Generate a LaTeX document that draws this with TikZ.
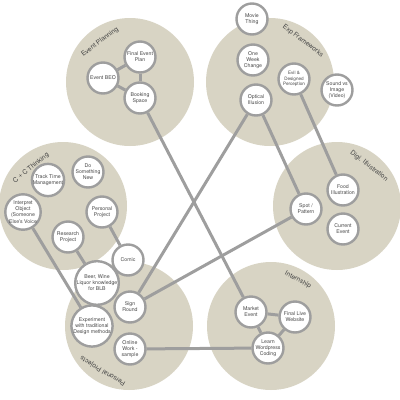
\documentclass[tikz,border=0pt]{standalone}
\usepackage{fontspec}
\setmainfont{TeX Gyre Heros}
\definecolor{sand}{RGB}{216,212,196}
\definecolor{rim}{RGB}{158,158,158}
\definecolor{ink}{RGB}{70,70,70}
\begin{document}
\begin{tikzpicture}[x=1pt,y=-1pt,
    idea/.style={circle,draw=rim,line width=2.4pt,fill=white,minimum size=31pt,
      inner sep=0pt,align=center,text=ink,font=\fontsize{5.2}{6.1}\selectfont},
    tag/.style={text=ink,font=\fontsize{6.6}{7}\selectfont},
    link/.style={rim,line width=3pt}]
    \useasboundingbox (0,0) rectangle (400,400);
    % the six topics
    \fill[sand] (130,82) circle (64pt);
    \fill[sand] (270,82) circle (64pt);
    \fill[sand] (337,206) circle (64pt);
    \fill[sand] (271,326) circle (64pt);
    \fill[sand] (129,326) circle (64pt);
    \fill[sand] (63,206) circle (64pt);
    \begin{scope}[shift={(130,82)}]
      \node[tag,rotate=37] (eptag) at (-30,-40) {Event Planning};
      \node[idea] (finalplan) at (10,-25) {Final Event\\Plan};
      \node[idea] (beo) at (-27,-4) {Event BEO};
      \node[idea] (booking) at (10,16) {Booking\\Space};
    \end{scope}
    \begin{scope}[shift={(270,82)}]
      \node[tag,rotate=-37] (eftag) at (33,-41) {Exp Frameworks};
      \node[idea] (movie) at (-18,-63) {Movie\\Thing};
      \node[idea] (week) at (-17,-22) {One\\Week\\Change};
      \node[idea,font=\fontsize{4.6}{5.6}\selectfont] (evil) at (24,-3) {Evil \&\\Designed\\Perception};
      \node[idea] (sound) at (67,8) {Sound vs\\Image\\(Video)};
      \node[idea] (optical) at (-14,18) {Optical\\Illusion};
    \end{scope}
    \begin{scope}[shift={(337,206)}]
      \node[tag,rotate=-38] (ditag) at (32,-40) {Digi. Illustration};
      \node[idea] (food) at (6,-16) {Food\\Illustration};
      \node[idea] (spot) at (-31,3) {Spot /\\Pattern};
      \node[idea] (current) at (6,23) {Current\\Event};
    \end{scope}
    \begin{scope}[shift={(271,326)}]
      \node[tag,rotate=-28] (intag) at (27,-46) {Internship};
      \node[idea] (market) at (-20,-14) {Market\\Event};
      \node[idea] (livesite) at (24,-9) {Final Live\\Website};
      \node[idea] (wordpress) at (-3,22) {Learn\\Wordpress\\Coding};
    \end{scope}
    \begin{scope}[shift={(129,326)}]
      \node[tag,rotate=149] (pptag) at (-26,45) {Personal Projects};
      \node[idea] (beer) at (-32,-43) {Beer, Wine\\Liquor knowledge\\for BLB};
      \node[idea] (sign) at (1,-19) {Sign\\Round};
      \node[idea] (experiment) at (-37,0) {Experiment\\with traditional\\Design methods};
      \node[idea] (online) at (1,23) {Online\\Work -\\sample};
    \end{scope}
    \begin{scope}[shift={(63,206)}]
      \node[tag,rotate=39] (cctag) at (-32,-38) {C + C Thinking};
      \node[idea] (track) at (-15,-26) {Track Time\\Management};
      \node[idea] (new) at (25,-34) {Do\\Something\\New};
      \node[idea] (interpret) at (-40,6) {Interpret\\Object\\(Someone\\Else's Voice};
      \node[idea] (personal) at (39,6) {Personal\\Project};
      \node[idea] (research) at (5,31) {Research\\Project};
      \node[idea] (comic) at (65,54) {Comic};
    \end{scope}
    % connectors
    \draw[link] (beo) -- (finalplan);
    \draw[link] (beo) -- (booking);
    \draw[link] (finalplan) -- (booking);
    \draw[link] (market) -- (livesite);
    \draw[link] (market) -- (wordpress);
    \draw[link] (livesite) -- (wordpress);
    \draw[link] (booking) -- (market);
    \draw[link] (optical) -- (sign);
    \draw[link] (optical) -- (spot);
    \draw[link] (evil) -- (food);
    \draw[link] (spot) -- (sign);
    \draw[link] (online) -- (wordpress);
    \draw[link] (personal) -- (comic);
    \draw[link] (research) -- (beer);
    \draw[link] (interpret) -- (experiment);
\end{tikzpicture}
\end{document}
